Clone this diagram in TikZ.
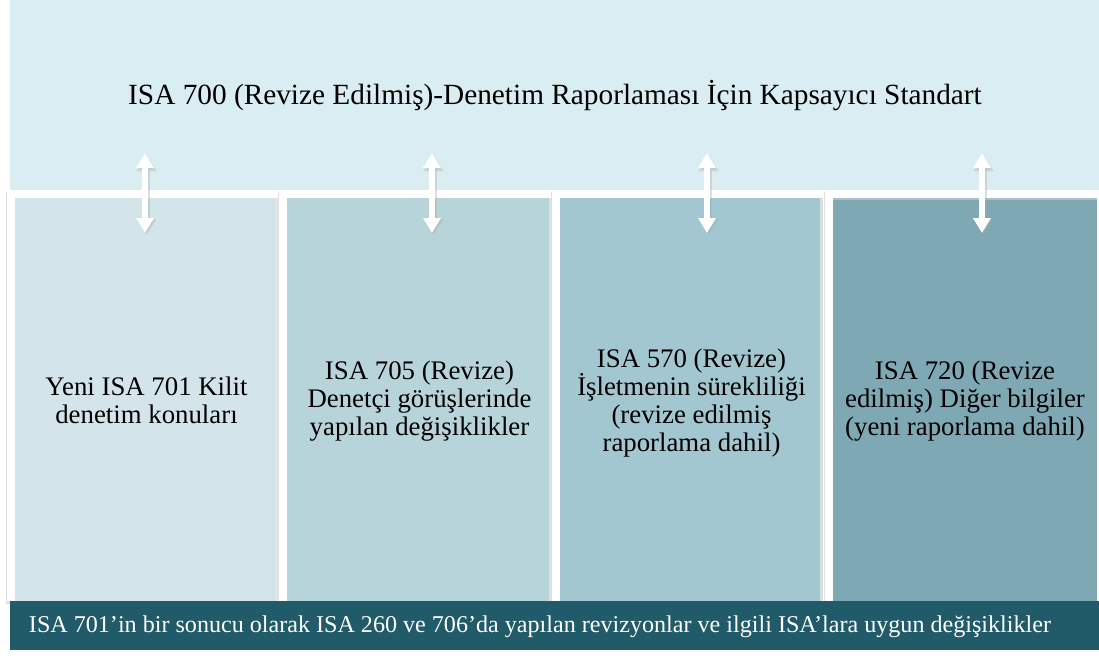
\documentclass[tikz,border=0pt]{standalone}
\usepackage{fontspec}
\setmainfont{Liberation Serif}
\usetikzlibrary{arrows.meta}
\definecolor{banner}{HTML}{DAEDF3}
\definecolor{colA}{HTML}{D4E4EB}
\definecolor{colB}{HTML}{B7D4DB}
\definecolor{colC}{HTML}{A3C7D0}
\definecolor{colD}{HTML}{7FA8B5}
\definecolor{barcol}{HTML}{215A69}
\tikzset{
  coltext/.style={align=center, font=\fontsize{26.8}{28}\selectfont, text=black},
  dblarrow/.style={draw=white, line width=5.5pt, {Triangle[width=17pt,length=15pt]}-{Triangle[width=17pt,length=15pt]}},
  dblshadow/.style={draw=black!35, opacity=0.35, line width=7pt, {Triangle[width=19pt,length=16pt]}-{Triangle[width=19pt,length=16pt]}},
}
\begin{document}
\begin{tikzpicture}[x=1pt,y=-1pt]
\useasboundingbox (0,0) rectangle (1099,657);
\fill[white] (0,0) rectangle (1099,657);
% banner
\fill[banner] (10,0) rectangle (1099,190);
\node[font=\fontsize{29.3}{33}\selectfont] (title) at (555,96) {ISA 700 (Revize Edilmiş)-Denetim Raporlaması İçin Kapsayıcı Standart};
% column frames
\foreach \xa/\xb in {15/278, 287/552, 560/823, 833/1097}{
  \fill[black!12] (\xa-9,198-6) rectangle (\xb+6,601+3);
  \fill[white] (\xa-8,198-8) rectangle (\xb+5,601);
}
\fill[colA] (15,198) rectangle (278,601);
\fill[black!10,opacity=0.8] (275,198) rectangle (278,601);
\fill[colB] (287,198) rectangle (552,601);
\fill[black!10,opacity=0.8] (549,198) rectangle (552,601);
\fill[colC] (560,198) rectangle (823,601);
\fill[black!10,opacity=0.8] (820,198) rectangle (823,601);
\fill[colD] (833,198) rectangle (1097,601);
\fill[black!15,opacity=0.5] (833,198) rectangle (1097,200);
\node[coltext] (c1) at (146.5,400) {Yeni ISA 701 Kilit\\denetim konuları};
\node[coltext] (c2) at (419.5,401) {ISA 705 (Revize)\\Denetçi görüşlerinde\\yapılan değişiklikler};
\node[coltext] (c3) at (691.5,403) {ISA 570 (Revize)\\İşletmenin sürekliliği\\(revize edilmiş\\raporlama dahil)};
\node[coltext] (c4) at (965,401) {ISA 720 (Revize\\edilmiş) Diğer bilgiler\\(yeni raporlama dahil)};
% arrows
\foreach \n/\x in {a/145, b/432, c/707, d/982}{
  \coordinate (\n top) at (\x,153);
  \coordinate (\n bot) at (\x,233);
  \coordinate (\n tops) at (\x+1.5,155);
  \coordinate (\n bots) at (\x+1.5,235);
  \draw[dblshadow] (\n tops) -- (\n bots);
  \draw[dblarrow] (\n top) -- (\n bot);
}
% bottom bar
\fill[barcol] (10,601) rectangle (1099,650);
\node[text=white, font=\fontsize{24.1}{26}\selectfont] (bottom) at (540,627) {ISA 701’in bir sonucu olarak ISA 260 ve 706’da yapılan revizyonlar ve ilgili ISA’lara uygun değişiklikler};
\end{tikzpicture}
\end{document}
